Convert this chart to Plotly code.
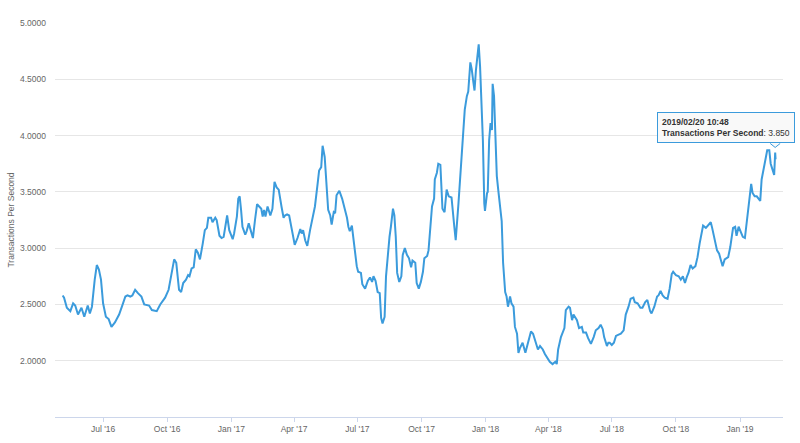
import plotly.graph_objects as go

# ---- data ----
dates = [
    "2016-05-04", "2016-05-06", "2016-05-10", "2016-05-15", "2016-05-19", "2016-05-22", "2016-05-26", "2016-05-28", "2016-05-31",
    "2016-06-04", "2016-06-06", "2016-06-09", "2016-06-12", "2016-06-15", "2016-06-19", "2016-06-22", "2016-06-25", "2016-06-28",
    "2016-07-01", "2016-07-05", "2016-07-09", "2016-07-13", "2016-07-18", "2016-07-24", "2016-07-28",
    "2016-08-02", "2016-08-05", "2016-08-09", "2016-08-12", "2016-08-16", "2016-08-20", "2016-08-25", "2016-08-29",
    "2016-09-05", "2016-09-09", "2016-09-16", "2016-09-21", "2016-09-28",
    "2016-10-03", "2016-10-08", "2016-10-11", "2016-10-14", "2016-10-18", "2016-10-21", "2016-10-24", "2016-10-28", "2016-10-31",
    "2016-11-02", "2016-11-05", "2016-11-08", "2016-11-11", "2016-11-14", "2016-11-17", "2016-11-21", "2016-11-24", "2016-11-27", "2016-11-29",
    "2016-12-03", "2016-12-05", "2016-12-09", "2016-12-11", "2016-12-15", "2016-12-18", "2016-12-21", "2016-12-24", "2016-12-26", "2016-12-29",
    "2017-01-01", "2017-01-03", "2017-01-05", "2017-01-09", "2017-01-11", "2017-01-13", "2017-01-15", "2017-01-17", "2017-01-21", "2017-01-23", "2017-01-26", "2017-01-29",
    "2017-02-01", "2017-02-04", "2017-02-07", "2017-02-10", "2017-02-13", "2017-02-15", "2017-02-17", "2017-02-19", "2017-02-22", "2017-02-26",
    "2017-03-01", "2017-03-04", "2017-03-07", "2017-03-10", "2017-03-12", "2017-03-14", "2017-03-17", "2017-03-19", "2017-03-22", "2017-03-25", "2017-03-29",
    "2017-04-02", "2017-04-06", "2017-04-10", "2017-04-12", "2017-04-14", "2017-04-17", "2017-04-20", "2017-04-24", "2017-04-28",
    "2017-05-01", "2017-05-05", "2017-05-07", "2017-05-10", "2017-05-12", "2017-05-15", "2017-05-17", "2017-05-20", "2017-05-23", "2017-05-25", "2017-05-28", "2017-05-30",
    "2017-06-01", "2017-06-05", "2017-06-09", "2017-06-13", "2017-06-16", "2017-06-18", "2017-06-20", "2017-06-23", "2017-06-25", "2017-06-28", "2017-06-30",
    "2017-07-02", "2017-07-06", "2017-07-08", "2017-07-12", "2017-07-16", "2017-07-19", "2017-07-22", "2017-07-24", "2017-07-27", "2017-07-30",
    "2017-08-02", "2017-08-04", "2017-08-06", "2017-08-09", "2017-08-11", "2017-08-13", "2017-08-16", "2017-08-18", "2017-08-21", "2017-08-23", "2017-08-25", "2017-08-27", "2017-08-30",
    "2017-09-02", "2017-09-04", "2017-09-07", "2017-09-10", "2017-09-13", "2017-09-16", "2017-09-18", "2017-09-22", "2017-09-24", "2017-09-27", "2017-09-30",
    "2017-10-03", "2017-10-05", "2017-10-09", "2017-10-11", "2017-10-13", "2017-10-16", "2017-10-19", "2017-10-20", "2017-10-23", "2017-10-25", "2017-10-28", "2017-10-30", "2017-10-31",
    "2017-11-03", "2017-11-06", "2017-11-09", "2017-11-13", "2017-11-17", "2017-11-19", "2017-11-23", "2017-11-25", "2017-11-28", "2017-11-30",
    "2017-12-02", "2017-12-05", "2017-12-07", "2017-12-10", "2017-12-12", "2017-12-14", "2017-12-16", "2017-12-18", "2017-12-20", "2017-12-22", "2017-12-24", "2017-12-26", "2017-12-28", "2017-12-30", "2017-12-31",
    "2018-01-03", "2018-01-04", "2018-01-06", "2018-01-08", "2018-01-10", "2018-01-11", "2018-01-13", "2018-01-15", "2018-01-17", "2018-01-19", "2018-01-22", "2018-01-24", "2018-01-26", "2018-01-29", "2018-01-31",
    "2018-02-02", "2018-02-05", "2018-02-07", "2018-02-10", "2018-02-12", "2018-02-15", "2018-02-17", "2018-02-19", "2018-02-23", "2018-02-27",
    "2018-03-02", "2018-03-07", "2018-03-10", "2018-03-14", "2018-03-17", "2018-03-20", "2018-03-24", "2018-03-27", "2018-03-31",
    "2018-04-03", "2018-04-07", "2018-04-11", "2018-04-13", "2018-04-15", "2018-04-19", "2018-04-22", "2018-04-24", "2018-04-26", "2018-04-30",
    "2018-05-02", "2018-05-05", "2018-05-07", "2018-05-09", "2018-05-12", "2018-05-15", "2018-05-19", "2018-05-21", "2018-05-25", "2018-05-28",
    "2018-06-01", "2018-06-05", "2018-06-08", "2018-06-12", "2018-06-15", "2018-06-18", "2018-06-20", "2018-06-24", "2018-06-26", "2018-06-28",
    "2018-07-01", "2018-07-04", "2018-07-07", "2018-07-10", "2018-07-14", "2018-07-18", "2018-07-21", "2018-07-25", "2018-07-28",
    "2018-08-01", "2018-08-03", "2018-08-07", "2018-08-11", "2018-08-14", "2018-08-18", "2018-08-21", "2018-08-25", "2018-08-27", "2018-08-31",
    "2018-09-04", "2018-09-06", "2018-09-09", "2018-09-12", "2018-09-15", "2018-09-19", "2018-09-22", "2018-09-25", "2018-09-27",
    "2018-10-01", "2018-10-05", "2018-10-08", "2018-10-11", "2018-10-14", "2018-10-17", "2018-10-19", "2018-10-22", "2018-10-25", "2018-10-29",
    "2018-11-01", "2018-11-04", "2018-11-07", "2018-11-09", "2018-11-13", "2018-11-17", "2018-11-20", "2018-11-22", "2018-11-25", "2018-11-29",
    "2018-12-02", "2018-12-05", "2018-12-07", "2018-12-10", "2018-12-12", "2018-12-15", "2018-12-18", "2018-12-20", "2018-12-22", "2018-12-25", "2018-12-27", "2018-12-30",
    "2019-01-01", "2019-01-05", "2019-01-08", "2019-01-11", "2019-01-13", "2019-01-15", "2019-01-17", "2019-01-19", "2019-01-22", "2019-01-25", "2019-01-28", "2019-01-30",
    "2019-02-01", "2019-02-04", "2019-02-07", "2019-02-09", "2019-02-12", "2019-02-14", "2019-02-17", "2019-02-19", "2019-02-20 10:48", "2019-02-21",
]

tps = [
    2.58, 2.56, 2.47, 2.44, 2.51, 2.49, 2.41, 2.44, 2.47,
    2.39, 2.44, 2.49, 2.42, 2.48, 2.72, 2.85, 2.81, 2.72,
    2.51, 2.39, 2.37, 2.30, 2.34, 2.41, 2.48,
    2.57, 2.58, 2.57, 2.58, 2.63, 2.60, 2.57, 2.50,
    2.49, 2.45, 2.44, 2.50, 2.56,
    2.63, 2.78, 2.90, 2.87, 2.63, 2.61, 2.69, 2.72, 2.76,
    2.75, 2.82, 2.83, 2.99, 2.96, 2.90, 3.04, 3.16, 3.18, 3.27,
    3.27, 3.23, 3.27, 3.25, 3.11, 3.09, 3.10, 3.21, 3.29, 3.16,
    3.11, 3.08, 3.13, 3.28, 3.44, 3.46, 3.34, 3.19, 3.12, 3.15, 3.22, 3.16,
    3.09, 3.25, 3.39, 3.37, 3.35, 3.28, 3.34, 3.28, 3.37, 3.29,
    3.35, 3.59, 3.54, 3.52, 3.42, 3.37, 3.27, 3.29, 3.30, 3.29, 3.16,
    3.03, 3.09, 3.17, 3.13, 3.16, 3.07, 3.02, 3.16, 3.27,
    3.37, 3.58, 3.69, 3.72, 3.91, 3.81, 3.64, 3.34, 3.29, 3.21, 3.32, 3.31,
    3.47, 3.51, 3.44, 3.35, 3.27, 3.19, 3.15, 3.20, 3.10, 2.91, 2.84,
    2.79, 2.78, 2.68, 2.64, 2.71, 2.74, 2.70, 2.75, 2.71, 2.61,
    2.60, 2.38, 2.33, 2.39, 2.75, 2.92, 3.10, 3.19, 3.35, 3.29, 3.10, 2.78, 2.70,
    2.75, 2.94, 3.00, 2.94, 2.91, 2.83, 2.89, 2.87, 2.69, 2.64, 2.70,
    2.79, 2.91, 2.93, 2.98, 3.16, 3.37, 3.44, 3.61, 3.67, 3.75, 3.74, 3.52, 3.35,
    3.32, 3.52, 3.46, 3.45, 3.19, 3.07, 3.40, 3.59, 3.80, 3.99,
    4.23, 4.35, 4.39, 4.65, 4.59, 4.49, 4.40, 4.58, 4.69, 4.81, 4.61, 4.29, 3.96, 3.40, 3.33,
    3.49, 3.50, 3.96, 4.11, 4.05, 4.46, 4.35, 4.05, 3.64, 3.52, 3.37, 3.24, 2.87, 2.61, 2.57,
    2.48, 2.57, 2.51, 2.48, 2.30, 2.24, 2.07, 2.11, 2.16, 2.07,
    2.14, 2.26, 2.24, 2.16, 2.10, 2.13, 2.10, 2.06, 2.02,
    1.99, 1.97, 1.99, 1.97, 2.10, 2.21, 2.26, 2.29, 2.45, 2.48,
    2.47, 2.36, 2.41, 2.39, 2.36, 2.29, 2.30, 2.25, 2.25, 2.20,
    2.15, 2.21, 2.27, 2.29, 2.32, 2.28, 2.21, 2.13, 2.16, 2.16,
    2.14, 2.16, 2.22, 2.23, 2.24, 2.27, 2.41, 2.48, 2.55,
    2.56, 2.52, 2.51, 2.47, 2.47, 2.52, 2.54, 2.44, 2.42, 2.48,
    2.57, 2.58, 2.62, 2.58, 2.56, 2.55, 2.64, 2.77, 2.79,
    2.76, 2.75, 2.72, 2.75, 2.69, 2.75, 2.78, 2.85, 2.82, 2.84,
    2.92, 3.04, 3.13, 3.20, 3.18, 3.21, 3.23, 3.18, 3.09, 2.98,
    2.95, 2.88, 2.84, 2.90, 2.91, 2.92, 3.01, 3.10, 3.18, 3.19, 3.11, 3.19,
    3.16, 3.10, 3.09, 3.25, 3.41, 3.50, 3.57, 3.49, 3.46, 3.46, 3.44, 3.42,
    3.61, 3.72, 3.81, 3.87, 3.87, 3.75, 3.69, 3.65, 3.85, 3.79,
]

y_ticks = [2.0, 2.5, 3.0, 3.5, 4.0, 4.5, 5.0]
series_name = "Transactions Per Second"
tooltip_date = "2019-02-20 10:48"
tooltip_value = 3.85
tooltip_label = "2019/02/20 10:48"

LINE = "#3b9bdc"
FONT = "Liberation Sans, Arial, Helvetica, sans-serif"

fig = go.Figure()
fig.add_trace(go.Scatter(
    x=dates, y=tps, mode="lines", name=series_name,
    line=dict(color=LINE, width=2),
    hoverinfo="skip",
))

fig.add_annotation(
    x=tooltip_date, y=tooltip_value, xref="x", yref="y",
    showarrow=False, xanchor="right", yanchor="bottom",
    xshift=20, yshift=9,
    text=f"<b>{tooltip_label}</b><br><b>{series_name}</b>: {tooltip_value:.3f}",
    align="left",
    bgcolor="rgba(248,248,248,0.92)", bordercolor=LINE, borderwidth=1, borderpad=4,
    font=dict(family=FONT, size=8.5, color="#333333"),
)
fig.add_shape(
    type="path", xref="x", yref="y",
    xsizemode="pixel", ysizemode="pixel",
    xanchor=tooltip_date, yanchor=tooltip_value,
    path="M -5 9 L 0 5 L 5 9",
    line=dict(color=LINE, width=1),
    fillcolor="rgba(248,248,248,1)",
    layer="above",
)

fig.update_layout(
    width=800, height=443,
    margin=dict(l=55, r=17, t=23, b=26),
    paper_bgcolor="white", plot_bgcolor="white",
    showlegend=False,
    font=dict(family=FONT, size=8.5, color="#666666"),
    hovermode=False,
    xaxis=dict(
        type="date",
        range=["2016-04-23", "2019-03-03 16:00"],
        tick0="2016-01-01", dtick="M3", tickformat="%b '%y",
        showgrid=False, zeroline=False,
        showline=True, linecolor="#ccd6eb", linewidth=1,
        ticks="outside", ticklen=4, tickcolor="#ccd6eb", tickwidth=1,
        tickfont=dict(family=FONT, size=8.5, color="#666666"),
        automargin=False,
    ),
    yaxis=dict(
        range=[1.5, 5.0],
        tickvals=y_ticks, tickformat=".4f",
        showgrid=True, gridcolor="#e6e6e6", gridwidth=1,
        zeroline=False, showline=False, ticks="",
        ticklabelstandoff=8,
        tickfont=dict(family=FONT, size=8.5, color="#666666"),
        title=dict(text=series_name, standoff=4,
                   font=dict(family=FONT, size=8.5, color="#666666")),
        automargin=False,
    ),
)

fig.write_html(
    "out.html",
    config={"displayModeBar": False},
    post_script="document.body.style.margin='0px';document.body.style.padding='0px';",
)
